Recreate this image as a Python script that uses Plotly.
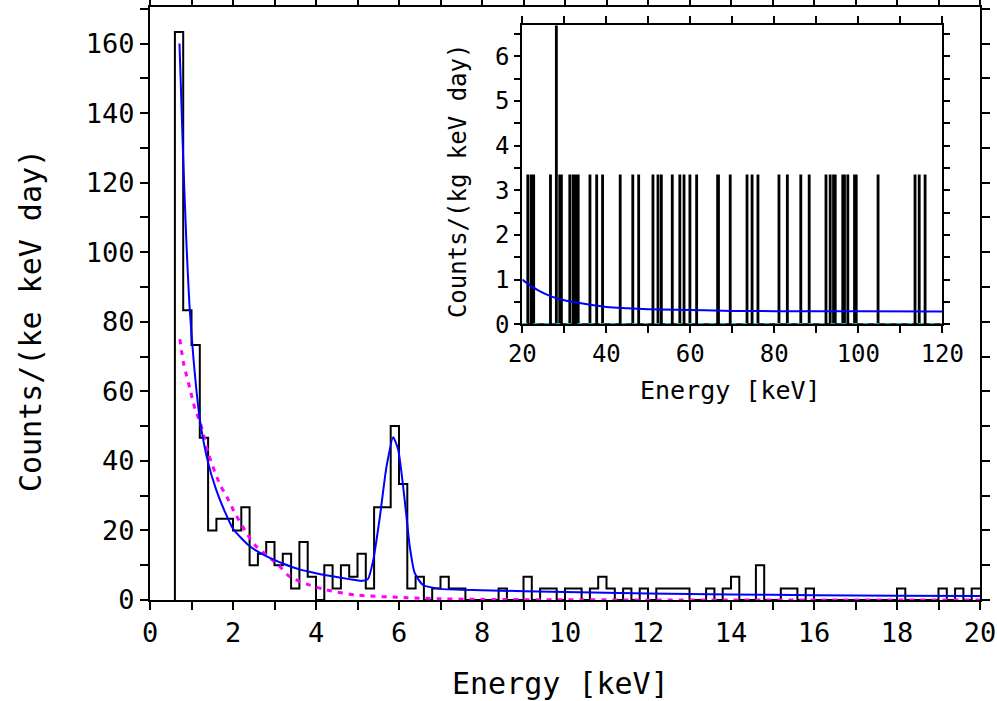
import numpy as np
import plotly.graph_objects as go

# ---------------- main spectrum (0.2 keV bins from 0.6 to 20 keV) ----------------
BIN_WIDTH = 0.2
BIN_START = 0.6
COUNT_UNIT = 3.333  # counts/(kg keV day) for a single event in a 0.2 keV bin
main_counts = [
    49, 25, 22, 14, 6, 7, 7, 6, 8, 3,      # 0.6 - 2.4
    4, 5, 3, 4, 1, 5, 2, 0, 3, 1,          # 2.6 - 4.4
    3, 2, 4, 1, 8, 8, 15, 10, 1, 2,        # 4.6 - 6.4
    0, 1, 2, 1, 1, 0, 0, 0, 0, 1,          # 6.6 - 8.4
    0, 0, 2, 0, 1, 1, 0, 1, 1, 0,          # 8.6 - 10.4
    1, 2, 1, 0, 1, 0, 1, 0, 1, 1,          # 10.6 - 12.4
    1, 1, 0, 0, 1, 0, 1, 2, 0, 0,          # 12.6 - 14.4
    3, 0, 0, 1, 1, 0, 1, 0, 0, 0,          # 14.6 - 16.4
    0, 0, 0, 0, 0, 0, 0, 1, 0, 0,          # 16.6 - 18.4
    0, 0, 1, 0, 1, 0, 1,                   # 18.6 - 19.8
]

# total fit (blue)
fit_e = [0.71, 0.80, 0.88, 0.95, 1.05, 1.20, 1.40, 1.60, 1.80, 2.00, 2.40, 2.80,
         3.20, 3.60, 4.00, 4.40, 4.80, 5.10, 5.25, 5.38, 5.54, 5.70, 5.86, 5.98,
         6.10, 6.18, 6.26, 6.38, 6.58, 7.00, 8.00, 10.0, 12.0, 14.0, 16.0, 18.0, 20.0]
fit_v = [160, 127, 102, 85, 69, 52, 39.5, 31.5, 25.5, 20.5, 15.5, 12.6,
         10.5, 8.8, 7.7, 6.8, 6.0, 5.5, 6.0, 11.5, 24, 38.4, 46.8, 43.2,
         32.6, 24, 15.3, 7.7, 4.3, 3.2, 2.8, 2.3, 1.9, 1.6, 1.4, 1.25, 1.15]

# exponential component (magenta dotted)
exp_e = [0.72, 0.81, 0.97, 1.09, 1.21, 1.41, 1.69, 1.85, 2.05, 2.33, 2.53, 2.81,
         3.13, 3.37, 3.85, 4.25, 4.97, 6.18, 7.0, 8.0, 10.0, 14.0, 20.0]
exp_v = [75, 68, 60.4, 54.7, 51, 42, 33.1, 29.7, 24.9, 19.2, 15.8, 12.9,
         9.6, 6.7, 4.3, 2.9, 1.44, 0.67, 0.35, 0.18, 0.06, 0.01, 0.0]

# ---------------- inset (20 - 120 keV) ----------------
INSET_START, INSET_END = 20.0, 120.0
inset_event_e = [21.4, 22.0, 22.6, 26.6, 28.2, 28.2, 28.8, 29.4, 31.4, 32.0, 32.4,
                 32.8, 33.4, 36.1, 37.7, 39.1, 43.3, 46.4, 47.6, 51.0, 52.4, 53.0,
                 55.8, 57.5, 58.5, 59.9, 61.5, 66.4, 66.8, 69.4, 73.6, 74.8, 76.0,
                 81.0, 83.1, 86.3, 88.3, 92.3, 93.3, 94.0, 94.6, 96.2, 96.8, 97.5,
                 99.0, 99.4, 104.8, 113.5, 114.5, 115.9]
inset_fit_e = [20, 22, 24, 26, 28, 30, 34, 40, 45, 50, 60, 70, 80, 100, 120]
inset_fit_v = [1.0, 0.86, 0.75, 0.66, 0.59, 0.54, 0.47, 0.39, 0.36, 0.34, 0.32,
               0.30, 0.295, 0.29, 0.285]
inset_zero_e = [20, 120]
inset_zero_v = [0, 0]

FONT = "DejaVu Sans Mono"

# ---- build step arrays ----
n = len(main_counts)
edges = [round(BIN_START + i * BIN_WIDTH, 3) for i in range(n)]
hx = [BIN_START] + edges + [round(BIN_START + n * BIN_WIDTH, 3)]
rates = [c * COUNT_UNIT for c in main_counts]
hy = [0] + rates + [rates[-1]]

nb = int(round((INSET_END - INSET_START) / BIN_WIDTH))
ic = np.zeros(nb)
for e in inset_event_e:
    ic[int((e - INSET_START) / BIN_WIDTH)] += 1
ix = list(INSET_START + np.arange(nb) * BIN_WIDTH) + [INSET_END]
iy = list(ic * COUNT_UNIT) + [ic[-1] * COUNT_UNIT]

fig = go.Figure()
fig.add_trace(go.Scatter(x=hx, y=hy, mode="lines", line=dict(color="black", width=2, shape="hv"),
                         xaxis="x", yaxis="y", showlegend=False))
fig.add_trace(go.Scatter(x=exp_e, y=exp_v, mode="lines",
                         line=dict(color="#ff00ff", width=3, dash="5px,6px", shape="spline", smoothing=0.8),
                         xaxis="x", yaxis="y", showlegend=False))
fig.add_trace(go.Scatter(x=fit_e, y=fit_v, mode="lines",
                         line=dict(color="#0000ff", width=2, shape="spline", smoothing=0.6),
                         xaxis="x", yaxis="y", showlegend=False))

fig.add_trace(go.Scatter(x=ix, y=iy, mode="lines", line=dict(color="black", width=2, shape="hv"),
                         xaxis="x2", yaxis="y2", showlegend=False))
fig.add_trace(go.Scatter(x=inset_zero_e, y=inset_zero_v, mode="lines",
                         line=dict(color="#00e0e0", width=2, dash="5px,6px"),
                         xaxis="x2", yaxis="y2", showlegend=False))
fig.add_trace(go.Scatter(x=inset_fit_e, y=inset_fit_v, mode="lines",
                         line=dict(color="#0000ff", width=2, shape="spline"),
                         xaxis="x2", yaxis="y2", showlegend=False))

axis_common = dict(showline=True, linecolor="black", linewidth=2, mirror="allticks",
                   ticks="outside", tickcolor="black", tickwidth=2, showgrid=False,
                   zeroline=False, color="black", automargin=False)

main_xt = list(range(0, 21))
main_yt = list(range(0, 171, 10))
inset_xt = list(range(20, 121, 10))
inset_yt = [i * 0.5 for i in range(0, 14)]

fig.update_layout(
    width=997, height=701,
    margin=dict(l=150, r=17, t=7, b=101, autoexpand=False),
    paper_bgcolor="white", plot_bgcolor="white",
    font=dict(family=FONT, color="black"),
    xaxis=dict(**axis_common, range=[0, 20], domain=[0, 1], ticklen=8,
               tickvals=main_xt, ticktext=[str(v) if v % 2 == 0 else "" for v in main_xt],
               tickfont=dict(size=27, family=FONT)),
    yaxis=dict(**axis_common, range=[0, 170.5], domain=[0, 1], ticklen=8,
               tickvals=main_yt, ticktext=[str(v) if v % 20 == 0 else "" for v in main_yt],
               tickfont=dict(size=27, family=FONT)),
    xaxis2=dict(**axis_common, range=[20, 120], domain=[0.4486, 0.9546], anchor="y2", ticklen=7,
                tickvals=inset_xt, ticktext=[str(v) if v % 20 == 0 else "" for v in inset_xt],
                tickfont=dict(size=24, family=FONT)),
    yaxis2=dict(**axis_common, range=[0, 6.7], domain=[0.4649, 0.9696], anchor="x2", ticklen=6,
                tickvals=inset_yt, ticktext=[str(int(v)) if v == int(v) else "" for v in inset_yt],
                tickfont=dict(size=24, family=FONT)),
    annotations=[
        dict(text="Energy [keV]", xref="paper", yref="paper", x=0.494, y=-0.140,
             showarrow=False, font=dict(size=30, family=FONT), xanchor="center", yanchor="middle"),
        dict(text="Counts/(ke keV day)", xref="paper", yref="paper", x=-0.1446, y=0.472,
             showarrow=False, textangle=-90, font=dict(size=30, family=FONT),
             xanchor="center", yanchor="middle"),
        dict(text="Energy [keV]", xref="paper", yref="paper", x=0.699, y=0.354,
             showarrow=False, font=dict(size=25, family=FONT), xanchor="center", yanchor="middle"),
        dict(text="Counts/(kg keV day)", xref="paper", yref="paper", x=0.371, y=0.708,
             showarrow=False, textangle=-90, font=dict(size=24, family=FONT),
             xanchor="center", yanchor="middle"),
    ],
)

fig.write_html("out.html")
